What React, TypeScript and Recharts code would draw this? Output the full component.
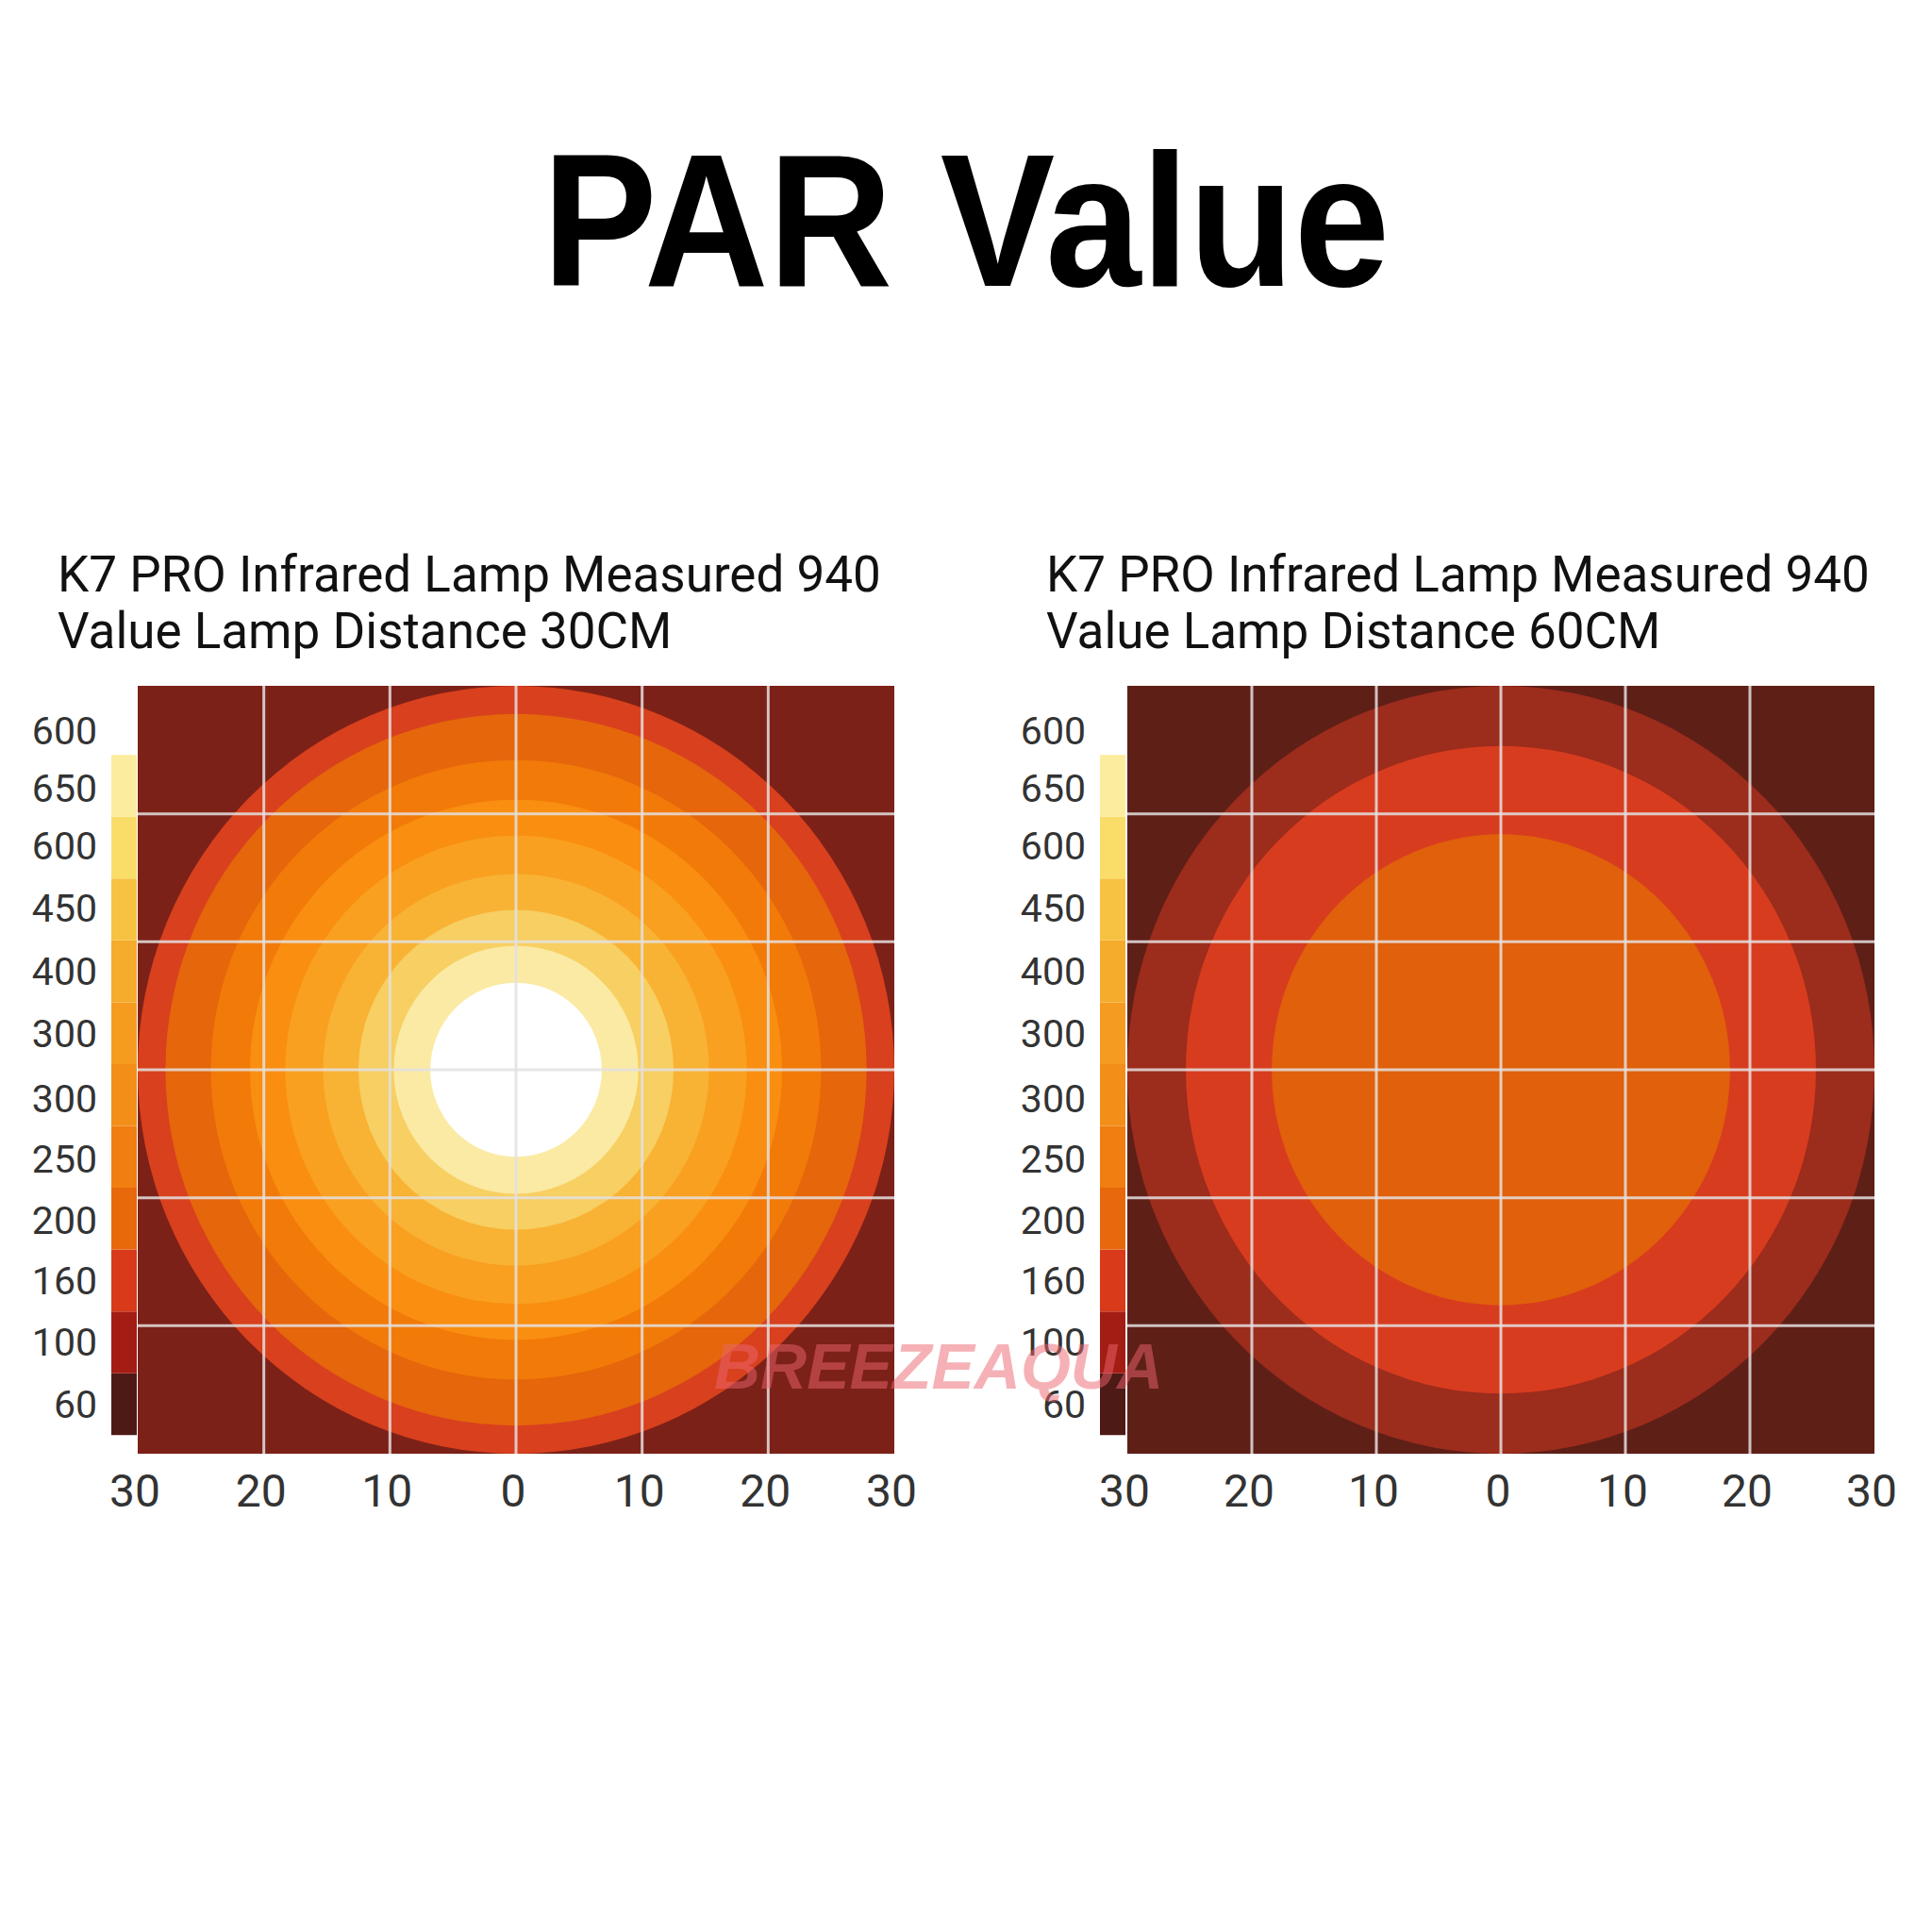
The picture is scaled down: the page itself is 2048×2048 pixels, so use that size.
import {
  ScatterChart,
  Scatter,
  XAxis,
  YAxis,
  CartesianGrid,
  ReferenceLine,
  BarChart,
  Bar,
} from "recharts";

// axis ticks (cm from lamp centre)
const xTicks = [-30, -20, -10, 0, 10, 20, 30];
const gridTicks = [-20, -10, 0, 10, 20];

// 30cm panel: ring outer radius (cm) and colour, outside -> in
const rings30Radius = [30, 27.8, 24.2, 21.1, 18.3, 15.3, 12.5, 9.7, 6.8];
const rings30Color = [
  "#d8401e",
  "#e5660b",
  "#f27a09",
  "#f98e10",
  "#f9a020",
  "#f8b234",
  "#f7cf62",
  "#fbeaa4",
  "#ffffff",
];

// 60cm panel
const rings60Radius = [30, 25.3, 18.4];
const rings60Color = ["#9c2c1c", "#d83c1f", "#e0600b"];

// colour scale, top -> bottom
const scaleLabels = ["600", "650", "600", "450", "400", "300", "300", "250", "200", "160", "100", "60"];
const scaleColors = [
  "#fcec9e",
  "#f9dd68",
  "#f7c242",
  "#f5ab2c",
  "#f59c20",
  "#f38e18",
  "#f07e10",
  "#e8680c",
  "#d83a1a",
  "#a41d14",
  "#4e1a16",
];
const scaleTickPos = [11.4, 10.46, 9.53, 8.53, 7.5, 6.49, 5.45, 4.46, 3.48, 2.5, 1.51, 0.5];

const FONT = "Roboto, 'Noto Sans', sans-serif";
const PLOT_H = 814;
const MARGIN = { top: 10, right: 40, bottom: 0, left: 40 };
const XAXIS_H = 90;
const GRID_STROKE = "#e4e1e0";

function HeatPanel({
  left,
  plotW,
  radius,
  colors,
  background,
}: {
  left: number;
  plotW: number;
  radius: number[];
  colors: string[];
  background: string;
}) {
  const rings = radius.map((r, i) => ({ x: 0, y: 0, r, fill: colors[i] }));
  const pxX = plotW / 60;
  const pxY = PLOT_H / 60;
  const w = plotW + MARGIN.left + MARGIN.right;
  const h = PLOT_H + MARGIN.top + XAXIS_H;
  const boxStyle: React.CSSProperties = {
    position: "absolute",
    left: left - MARGIN.left,
    top: 727 - MARGIN.top,
  };

  const RingShape = (props: any) => {
    const { cx, cy, payload } = props;
    return (
      <ellipse
        cx={cx}
        cy={cy}
        rx={payload.r * pxX}
        ry={payload.r * pxY}
        fill={payload.fill}
      />
    );
  };

  const gridLines = (
    <>
      {gridTicks.map((t) => (
        <ReferenceLine
          key={"v" + t}
          x={t}
          stroke={GRID_STROKE}
          strokeOpacity={0.85}
          strokeWidth={3}
        />
      ))}
      {gridTicks.map((t) => (
        <ReferenceLine
          key={"h" + t}
          y={t}
          stroke={GRID_STROKE}
          strokeOpacity={0.85}
          strokeWidth={3}
        />
      ))}
    </>
  );

  return (
    <>
      <div style={boxStyle}>
        <ScatterChart width={w} height={h} margin={MARGIN}>
          <CartesianGrid
            horizontal={false}
            vertical={false}
            fill={background}
            fillOpacity={1}
          />
          <XAxis
            type="number"
            dataKey="x"
            domain={[-30, 30]}
            ticks={xTicks}
            interval={0}
            height={XAXIS_H}
            axisLine={false}
            tickLine={false}
            tickSize={0}
            tickMargin={22}
            tickFormatter={(v: number) => String(Math.abs(v))}
            tick={{ fontSize: 48, fill: "#333", fontFamily: FONT, dx: -3 }}
          />
          <YAxis type="number" dataKey="y" domain={[-30, 30]} hide />
          <Scatter data={rings} shape={RingShape} isAnimationActive={false} />
        </ScatterChart>
      </div>

      {/* second layer so the grid lines sit on top of the rings */}
      <div style={{ ...boxStyle, pointerEvents: "none" }}>
        <ScatterChart width={w} height={h} margin={MARGIN}>
          <XAxis
            type="number"
            dataKey="x"
            domain={[-30, 30]}
            ticks={xTicks}
            height={XAXIS_H}
            tick={false}
            axisLine={false}
            tickLine={false}
          />
          <YAxis type="number" dataKey="y" domain={[-30, 30]} hide />
          <Scatter
            data={rings.slice(0, 1)}
            shape={() => <g />}
            isAnimationActive={false}
          />
          {gridLines}
        </ScatterChart>
      </div>
    </>
  );
}

function ColorScale({ barLeft }: { barLeft: number }) {
  const row: Record<string, any> = { name: "scale" };
  const bottomUp = [...scaleColors].reverse();
  bottomUp.forEach((_, i) => {
    row["s" + i] = 1;
  });

  return (
    <div style={{ position: "absolute", left: barLeft - 100, top: 744 }}>
      <BarChart
        width={127}
        height={840}
        data={[row]}
        margin={{ top: 30, right: 0, bottom: 30, left: 0 }}
        barCategoryGap={0}
      >
        <XAxis dataKey="name" hide />
        <YAxis
          type="number"
          domain={[-0.5, 11.4]}
          ticks={scaleTickPos}
          interval={0}
          width={100}
          axisLine={false}
          tickLine={false}
          tickSize={0}
          tickMargin={15}
          tickFormatter={(v: number) => scaleLabels[scaleTickPos.indexOf(v)]}
          tick={{ fontSize: 41, fill: "#333", fontFamily: FONT }}
        />
        {bottomUp.map((c, i) => (
          <Bar
            key={i}
            dataKey={"s" + i}
            stackId="scale"
            fill={c}
            isAnimationActive={false}
          />
        ))}
      </BarChart>
    </div>
  );
}

export default function App() {
  return (
    <div
      style={{
        position: "absolute",
        left: 0,
        top: 0,
        width: 2048,
        height: 2048,
        background: "#ffffff",
        overflow: "hidden",
      }}
    >
      <ColorScale barLeft={118} />
      <HeatPanel
        left={146}
        plotW={802}
        radius={rings30Radius}
        colors={rings30Color}
        background="#7c2117"
      />

      <ColorScale barLeft={1166} />
      <HeatPanel
        left={1195}
        plotW={792}
        radius={rings60Radius}
        colors={rings60Color}
        background="#5e1f17"
      />

      <svg
        width={2048}
        height={2048}
        style={{ position: "absolute", left: 0, top: 0, pointerEvents: "none" }}
      >
        <text
          x={1024}
          y={303}
          textAnchor="middle"
          fontFamily="'Liberation Sans', Arial, sans-serif"
          fontWeight={700}
          fontSize={201}
          textLength={898}
          lengthAdjust="spacingAndGlyphs"
          fill="#000"
        >
          PAR Value
        </text>

        <g fontFamily={FONT} fontSize={53} fill="#111">
          <text x={61} y={627}>K7 PRO Infrared Lamp Measured 940</text>
          <text x={61} y={687}>Value Lamp Distance 30CM</text>
          <text x={1109} y={627}>K7 PRO Infrared Lamp Measured 940</text>
          <text x={1109} y={687}>Value Lamp Distance 60CM</text>
        </g>

        <text
          x={757}
          y={1472}
          fontFamily="'Liberation Sans', Arial, sans-serif"
          fontWeight={700}
          fontStyle="italic"
          fontSize={68}
          fill="rgb(235,100,110)"
          fillOpacity={0.5}
        >
          BREEZEAQUA
        </text>
      </svg>
    </div>
  );
}
